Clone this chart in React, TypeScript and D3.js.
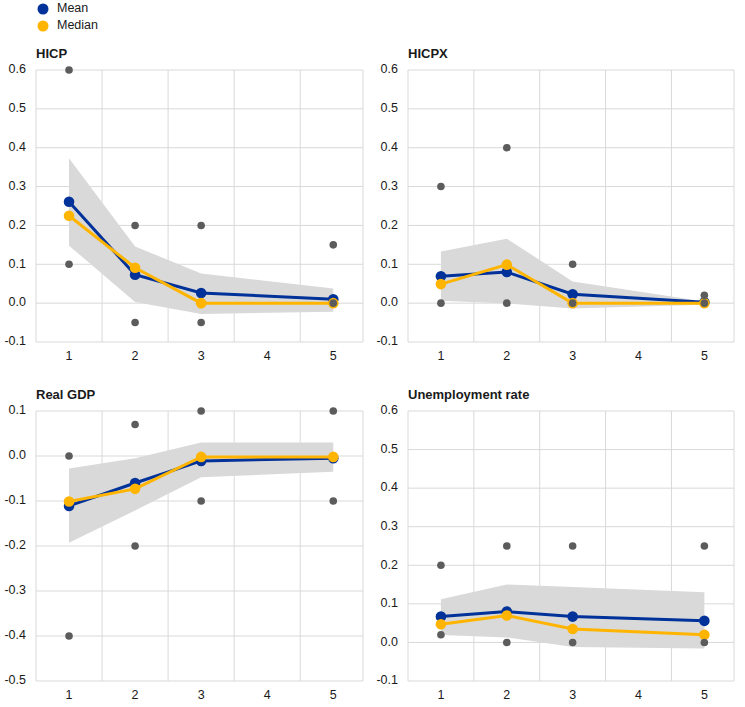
import React from "react";
import * as d3 from "d3";

const horizons = [1, 2, 3, 5];
const xTickLabels = [1, 2, 3, 4, 5];
const yTicksInflation = [-0.1, 0, 0.1, 0.2, 0.3, 0.4, 0.5, 0.6];
const yTicksGdp = [-0.5, -0.4, -0.3, -0.2, -0.1, 0, 0.1];

// HICP
const hicpMean = [0.261, 0.073, 0.026, 0.01];
const hicpMedian = [0.225, 0.091, 0.0, 0.0];
const hicpUpper = [0.373, 0.146, 0.076, 0.038];
const hicpLower = [0.148, 0.003, -0.028, -0.022];
const hicpMax = [0.6, 0.2, 0.2, 0.15];
const hicpMin = [0.1, -0.05, -0.05, 0.0];

// HICPX
const hicpxMean = [0.069, 0.08, 0.023, 0.002];
const hicpxMedian = [0.049, 0.099, 0.0, 0.0];
const hicpxUpper = [0.133, 0.166, 0.056, 0.004];
const hicpxLower = [0.006, -0.001, -0.014, -0.004];
const hicpxMax = [0.3, 0.4, 0.1, 0.02];
const hicpxMin = [0.0, 0.0, 0.0, 0.0];

// Real GDP
const gdpMean = [-0.111, -0.06, -0.011, -0.005];
const gdpMedian = [-0.101, -0.073, -0.002, -0.002];
const gdpUpper = [-0.028, -0.005, 0.03, 0.03];
const gdpLower = [-0.193, -0.121, -0.047, -0.035];
const gdpMax = [0.0, 0.07, 0.1, 0.1];
const gdpMin = [-0.4, -0.2, -0.1, -0.1];

// Unemployment rate
const unempMean = [0.067, 0.08, 0.067, 0.056];
const unempMedian = [0.047, 0.07, 0.035, 0.02];
const unempUpper = [0.112, 0.15, 0.144, 0.13];
const unempLower = [0.019, 0.013, -0.012, -0.016];
const unempMax = [0.2, 0.25, 0.25, 0.25];
const unempMin = [0.02, 0.0, 0.0, 0.0];

const BLUE = "#003299";
const YELLOW = "#ffb400";
const DOT = "#5c5c5c";
const GRID = "#d9d9d9";
const BAND = "#d9d9d9";
const TEXT = "#1a1a1a";
const FONT = "'Liberation Sans', Arial, sans-serif";

type PanelProps = {
  title: string;
  left: number;
  right: number;
  top: number;
  bottom: number;
  yTicks: number[];
  mean: number[];
  median: number[];
  upper: number[];
  lower: number[];
  max: number[];
  min: number[];
};

function Panel(p: PanelProps) {
  const x = d3.scaleLinear().domain([0.5, 5.45]).range([p.left, p.right]);
  const y = d3
    .scaleLinear()
    .domain([p.yTicks[0], p.yTicks[p.yTicks.length - 1]])
    .range([p.bottom, p.top]);

  const area = d3
    .area<number>()
    .x((_, i) => x(horizons[i]))
    .y0((_, i) => y(p.lower[i]))
    .y1((_, i) => y(p.upper[i]));
  const line = d3
    .line<number>()
    .x((_, i) => x(horizons[i]))
    .y((d) => y(d));

  const vGrid = [0.5, 1.5, 2.5, 3.5, 4.5];

  return (
    <g>
      <text x={p.left} y={p.top - 15} fontSize={13} fontWeight="bold" fill={TEXT} dominantBaseline="middle">
        {p.title}
      </text>
      {p.yTicks.map((t) => (
        <g key={"h" + t}>
          <line x1={p.left} x2={p.right} y1={y(t)} y2={y(t)} stroke={GRID} strokeWidth={1} />
          <text x={p.left - 10} y={y(t)} textAnchor="end" dominantBaseline="middle" fontSize={12.5} fill={TEXT}>
            {t.toFixed(1)}
          </text>
        </g>
      ))}
      {vGrid.map((v) => (
        <line key={"v" + v} x1={x(v)} x2={x(v)} y1={p.top} y2={p.bottom} stroke={GRID} strokeWidth={1} />
      ))}
      <line x1={p.right} x2={p.right} y1={p.top} y2={p.bottom} stroke={GRID} strokeWidth={1} />
      {xTickLabels.map((t) => (
        <text key={"x" + t} x={x(t)} y={p.bottom + 15} textAnchor="middle" dominantBaseline="middle" fontSize={12.5} fill={TEXT}>
          {t}
        </text>
      ))}
      <path d={area(p.mean) || ""} fill={BAND} />
      <path d={line(p.mean) || ""} fill="none" stroke={BLUE} strokeWidth={3} />
      {p.mean.map((d, i) => (
        <circle key={"m" + i} cx={x(horizons[i])} cy={y(d)} r={5.3} fill={BLUE} />
      ))}
      <path d={line(p.median) || ""} fill="none" stroke={YELLOW} strokeWidth={3} />
      {p.median.map((d, i) => (
        <circle key={"md" + i} cx={x(horizons[i])} cy={y(d)} r={5.3} fill={YELLOW} />
      ))}
      {p.max.map((d, i) => (
        <circle key={"mx" + i} cx={x(horizons[i])} cy={y(d)} r={3.8} fill={DOT} />
      ))}
      {p.min.map((d, i) => (
        <circle key={"mn" + i} cx={x(horizons[i])} cy={y(d)} r={3.8} fill={DOT} />
      ))}
    </g>
  );
}

export default function App() {
  return (
    <svg
      width={745}
      height={707}
      style={{ position: "absolute", left: 0, top: 0, background: "#fff" }}
      fontFamily={FONT}
    >
      <circle cx={43} cy={9} r={5.5} fill={BLUE} />
      <text x={57} y={9} fontSize={12.5} fill={TEXT} dominantBaseline="middle">Mean</text>
      <circle cx={43} cy={26} r={5.5} fill={YELLOW} />
      <text x={57} y={26} fontSize={12.5} fill={TEXT} dominantBaseline="middle">Median</text>

      <Panel title="HICP" left={36} right={363} top={70} bottom={342} yTicks={yTicksInflation}
        mean={hicpMean} median={hicpMedian} upper={hicpUpper} lower={hicpLower} max={hicpMax} min={hicpMin} />
      <Panel title="HICPX" left={408} right={734} top={70} bottom={342} yTicks={yTicksInflation}
        mean={hicpxMean} median={hicpxMedian} upper={hicpxUpper} lower={hicpxLower} max={hicpxMax} min={hicpxMin} />
      <Panel title="Real GDP" left={36} right={363} top={411} bottom={681} yTicks={yTicksGdp}
        mean={gdpMean} median={gdpMedian} upper={gdpUpper} lower={gdpLower} max={gdpMax} min={gdpMin} />
      <Panel title="Unemployment rate" left={408} right={734} top={411} bottom={681} yTicks={yTicksInflation}
        mean={unempMean} median={unempMedian} upper={unempUpper} lower={unempLower} max={unempMax} min={unempMin} />
    </svg>
  );
}
